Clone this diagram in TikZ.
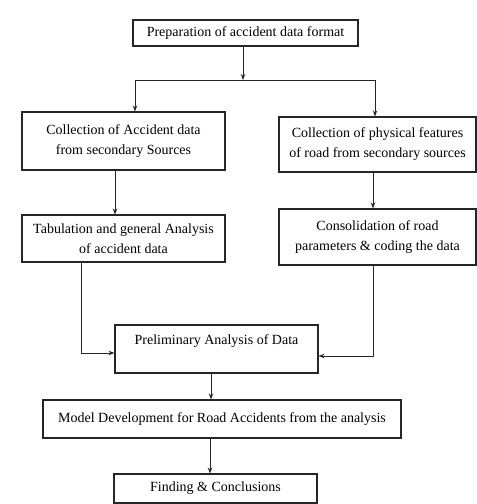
\documentclass[tikz,border=0pt]{standalone}
\usepackage{fontspec}
\setmainfont{Liberation Serif}
\usetikzlibrary{arrows.meta,calc}
\begin{document}
\begin{tikzpicture}[x=1pt,y=-1pt,
  box/.style={draw=black!85,line width=1.1pt,align=center,inner sep=0pt,
    font=\fontsize{14}{20}\selectfont},
  conn/.style={draw=black!85,line width=0.9pt},
  arr/.style={conn,-{Stealth[length=6pt,width=4.5pt]}}]
\useasboundingbox (0,0) rectangle (477,504);
\fill[white] (0,0) rectangle (477,504);
\node[box,minimum width=225,minimum height=26] (b1) at (245.5,33) {Preparation of accident data format};
\node[box,minimum width=203,minimum height=58] (b2) at (123.5,141) {Collection of Accident data\\from secondary Sources};
\node[box,minimum width=197,minimum height=55] (b3) at (377.5,144.5) {Collection of physical features\\of road from secondary sources};
\node[box,minimum width=203,minimum height=47] (b4) at (123.5,238.5) {Tabulation and general Analysis\\of accident data};
\node[box,minimum width=197,minimum height=56] (b5) at (377.5,237) {Consolidation of road\\parameters \& coding the data};
\node[box,minimum width=203,minimum height=48,text height=10pt,text depth=20pt] (b6) at (216.5,349) {Preliminary Analysis of Data};
\node[box,minimum width=358,minimum height=38] (b7) at (222,419) {Model Development for Road Accidents from the analysis};
\node[box,minimum width=203,minimum height=29] (b8) at (215.5,488.5) {Finding \& Conclusions};
\coordinate (split) at (243,80);
\coordinate (sl) at (135,80);
\coordinate (sr) at (375,80);
\coordinate (lj) at (81,353);
\coordinate (rj) at (373,356);
\draw[arr] (b1.south -| split) -- (split);
\draw[conn] (sl) -- (sr);
\draw[arr] (sl) -- (b2.north -| sl);
\draw[arr] (sr) -- (b3.north -| sr);
\draw[arr] (b2.south -| 115,0) -- (b4.north -| 115,0);
\draw[arr] (b3.south -| 373,0) -- (b5.north -| 373,0);
\draw[arr] (b4.south -| lj) |- (b6.west |- lj);
\draw[arr] (b5.south -| rj) |- (b6.east |- rj);
\draw[arr] (b6.south -| 211,0) -- (b7.north -| 211,0);
\draw[arr] (b7.south -| 210,0) -- (b8.north -| 210,0);
\end{tikzpicture}
\end{document}
